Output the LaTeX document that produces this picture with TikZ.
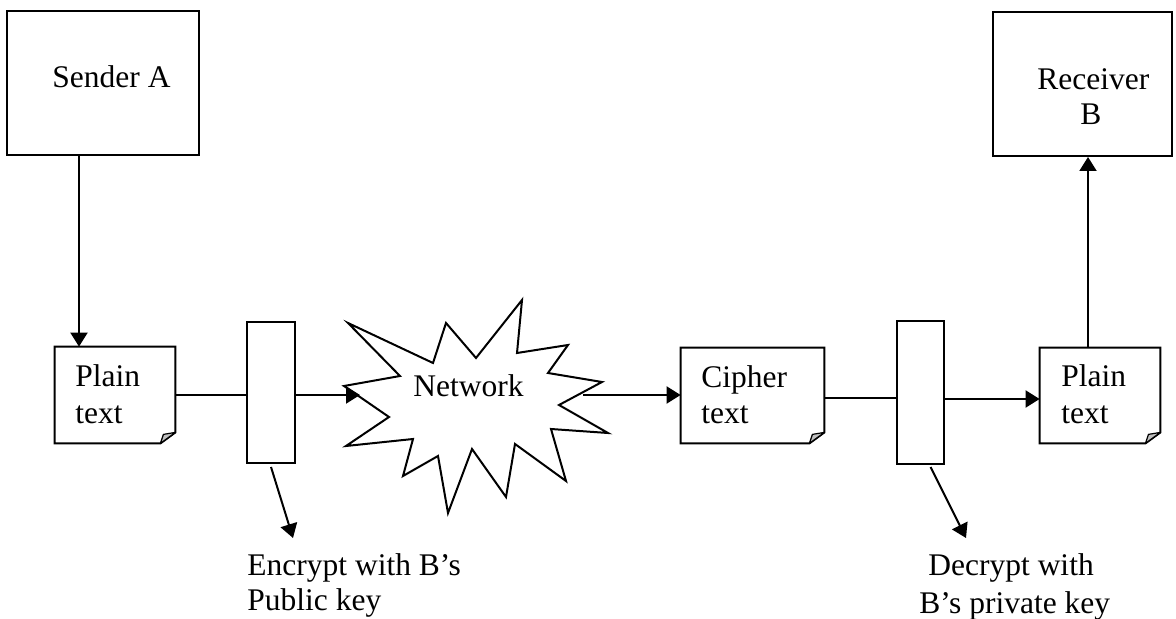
\documentclass[tikz,border=0pt]{standalone}
\usepackage{fontspec}
\setmainfont{Liberation Serif}
\usetikzlibrary{arrows.meta}

\tikzset{
  box/.style={draw, line width=1pt, rectangle, inner sep=0pt},
  ghost/.style={rectangle, inner sep=0pt, draw=none},
  lbl/.style={inner sep=0pt, anchor=base west, font=\fontsize{15.75}{18}\selectfont},
  link/.style={line width=1pt},
  arr/.style={line width=1pt, -{Triangle[length=7pt,width=8.5pt]}},
}

% outline of a note sheet with a turned-down lower right corner
\newcommand\notesheet[1]{%
  \draw[line width=1pt, line join=miter]
    (#1.north west) -- (#1.north east) -- ([yshift=5.5pt]#1.south east)
    -- ([xshift=-7.5pt]#1.south east) -- (#1.south west) -- cycle;
  \filldraw[fill=black!25, line width=0.6pt, line join=round]
    ([xshift=-7.5pt]#1.south east) -- ([yshift=5.5pt]#1.south east)
    -- ([xshift=-6pt,yshift=4.5pt]#1.south east) -- cycle;
}

\begin{document}
\begin{tikzpicture}[x=0.5pt, y=-0.5pt]
  \useasboundingbox (0,0) rectangle (1176,619);

  % end stations
  \node[box, minimum width=96pt, minimum height=72pt] (sender) at (103,83) {};
  \node[box, minimum width=89.5pt, minimum height=72pt] (receiver) at (1082.5,84) {};
  \node[lbl] at (52,88) {Sender A};
  \node[lbl] at (1037,90) {Receiver};
  \node[lbl] at (1080,125) {B};

  % message sheets
  \node[ghost, minimum width=60pt, minimum height=48pt] (plainA) at (115,395) {};
  \node[ghost, minimum width=71.5pt, minimum height=47.5pt] (cipher) at (752.5,395.5) {};
  \node[ghost, minimum width=60pt, minimum height=47.5pt] (plainB) at (1100,395.5) {};
  \notesheet{plainA}
  \notesheet{cipher}
  \notesheet{plainB}
  \node[lbl] at (75,387) {Plain};
  \node[lbl] at (75,423) {text};
  \node[lbl] at (701,388) {Cipher};
  \node[lbl] at (701,423) {text};
  \node[lbl] at (1061,387) {Plain};
  \node[lbl] at (1061,423) {text};

  % encryption / decryption stages
  \node[box, minimum width=24pt, minimum height=70.5pt] (enc) at (271,392.5) {};
  \node[box, minimum width=23.5pt, minimum height=71.5pt] (dec) at (920.5,392.5) {};

  % network cloud
  \draw[line width=1pt, line join=miter, miter limit=20]
    (348,323) -- (433,363) -- (446,323) -- (476,358) -- (522,300) -- (517,353)
    -- (568,345) -- (548,373) -- (602,382) -- (559,405) -- (608,433) -- (551,429)
    -- (566,481) -- (515,444) -- (506,497) -- (472,449) -- (448,513) -- (438,456)
    -- (403,476) -- (413,439) -- (346,446) -- (389,417) -- (344,386) -- (400,376)
    -- cycle;
  \node[lbl] (net) at (413,397) {Network};
  \coordinate (netin) at (360,395);
  \coordinate (netout) at (583,395);

  % key annotations
  \coordinate (encnote) at (293,538);
  \coordinate (decnote) at (966,538);
  \node[lbl] at (247,575) {Encrypt with B’s};
  \node[lbl] at (247,610) {Public key};
  \node[lbl] at (928,575) {Decrypt with};
  \node[lbl] at (919,613) {B’s private key};

  % flow
  \coordinate (colA) at (79,0);
  \coordinate (colB) at (1088,0);
  \coordinate (rowC) at (0,398);
  \coordinate (rowP) at (0,399);
  \draw[arr] (sender.south -| colA) -- (plainA.north -| colA);
  \draw[link] (plainA.east) -- (enc.west |- plainA.east);
  \draw[arr] (enc.east |- netin) -- (netin);
  \draw[arr] (netout) -- (cipher.west |- netout);
  \draw[link] (cipher.east |- rowC) -- (dec.west |- rowC);
  \draw[arr] (dec.east |- rowP) -- (plainB.west |- rowP);
  \draw[arr] (plainB.north -| colB) -- (receiver.south -| colB);
  \draw[arr] ([yshift=-1.5pt]enc.south) -- (encnote);
  \draw[arr] ([xshift=5pt,yshift=-1pt]dec.south) -- (decnote);
\end{tikzpicture}
\end{document}
